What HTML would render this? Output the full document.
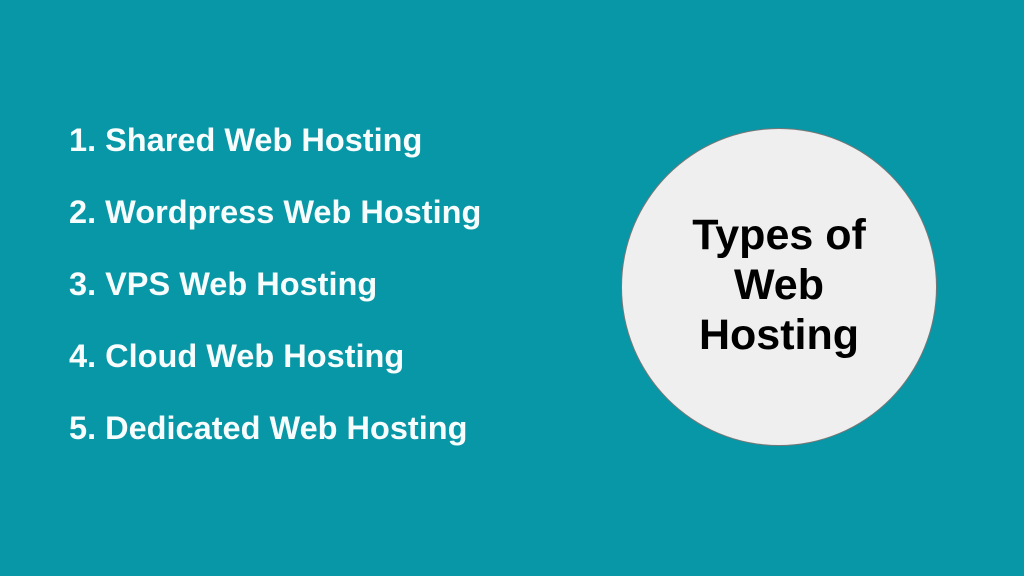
<!DOCTYPE html>
<html><head><style>
body{margin:0;width:1024px;height:576px;background:#0897a6;position:relative;overflow:hidden;font-family:"Liberation Sans",sans-serif;}
.i{position:absolute;left:69px;color:#f7fcfc;font-weight:bold;font-size:32.5px;line-height:1;}
.c{position:absolute;left:621px;top:128px;width:316px;height:318px;border-radius:50%;background:#efefef;border:1px solid #777;box-sizing:border-box;}
.t{position:absolute;left:621px;top:210px;width:316px;text-align:center;font-weight:bold;font-size:43px;line-height:50px;color:#000;}
</style></head><body>
<div class="i" style="top:124px">1. Shared Web Hosting</div>
<div class="i" style="top:196px">2. Wordpress Web Hosting</div>
<div class="i" style="top:268px">3. VPS Web Hosting</div>
<div class="i" style="top:340px">4. Cloud Web Hosting</div>
<div class="i" style="top:412px">5. Dedicated Web Hosting</div>
<div class="c"></div>
<div class="t">Types of<br>Web<br>Hosting</div>
</body></html>
